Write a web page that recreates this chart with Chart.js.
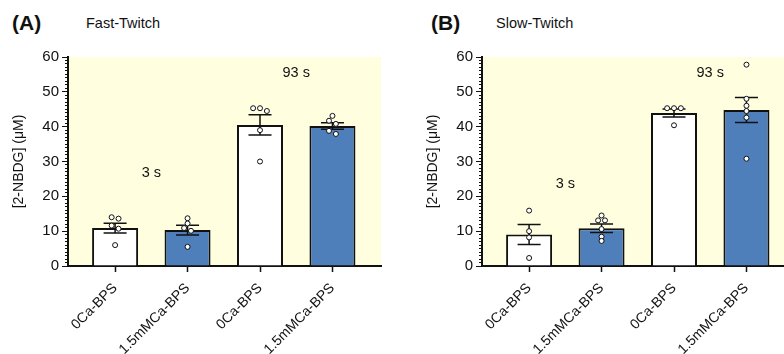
<!DOCTYPE html>
<html>
<head>
<meta charset="utf-8">
<script src="https://cdn.jsdelivr.net/npm/chart.js@4.4.1/dist/chart.umd.min.js"></script>
<style>
    body {
        margin: 0;
        width: 784px;
        height: 354px;
        overflow: hidden;
        position: relative;
        background: #fff;
        font-family: "Liberation Sans", Arial, sans-serif;
        color: #111;
    }
    .panel { position: absolute; top: 0; width: 392px; height: 354px; }
    .tag { position: absolute; top: 11px; font-size: 21px; font-weight: bold; line-height: 24px; }
    .name { position: absolute; top: 15px; font-size: 14.5px; line-height: 17px; }
</style>
</head>
<body>
<div class="tag" style="left:12px">(A)</div>
<div class="name" style="left:86px">Fast-Twitch</div>
<div class="tag" style="left:431px">(B)</div>
<div class="name" style="left:496px">Slow-Twitch</div>

<div class="panel" style="left:0"><canvas id="fastChart" width="392" height="354"></canvas></div>
<div class="panel" style="left:414px"><canvas id="slowChart" width="392" height="354"></canvas></div>

<script>
const categories = ['0Ca-BPS', '1.5mMCa-BPS', '0Ca-BPS', '1.5mMCa-BPS'];
const barColors = ['#ffffff', '#4f7fbb', '#ffffff', '#4f7fbb'];
const yTitle = '[2-NBDG] (μM)';

// Fast-Twitch (A)
const fastMeans = [10.9, 10.3, 40.5, 40.2];
const fastSems = [1.4, 1.4, 2.9, 0.95];
const fastPoints = [
    [14.0, 13.6, 11.6, 10.7, 6.0],
    [13.7, 12.2, 10.9, 10.1, 5.5],
    [45.3, 45.3, 44.5, 39.0, 30.0],
    [43.1, 41.7, 40.8, 38.8, 37.9]
];
const fastNotes = [
    { text: '3 s', x: 0.5, y: 26.7 },
    { text: '93 s', x: 2.5, y: 55.4 }
];

// Slow-Twitch (B)
const slowMeans = [9.05, 10.85, 43.9, 44.8];
const slowSems = [2.85, 1.2, 1.15, 3.6];
const slowPoints = [
    [15.9, 10.0, 8.2, 2.3],
    [14.5, 13.1, 13.1, 10.6, 8.4, 7.2],
    [45.3, 45.3, 45.3, 40.4],
    [57.8, 48.0, 46.0, 44.5, 42.6, 30.8]
];
const slowNotes = [
    { text: '3 s', x: 0.5, y: 23.5 },
    { text: '93 s', x: 2.5, y: 55.5 }
];

const FONT = '"Liberation Sans", Arial, sans-serif';
const INK = '#111';

// spread dots that would overlap sideways, like a small beeswarm
function dodge(values, idx) {
    const sorted = values.slice().sort((a, b) => b - a);
    const out = [];
    let cluster = [sorted[0]];
    const flush = () => {
        const n = cluster.length;
        cluster.forEach((v, j) => out.push({ x: idx + (j - (n - 1) / 2) * 0.095, y: v }));
    };
    for (let k = 1; k < sorted.length; k++) {
        if (cluster[cluster.length - 1] - sorted[k] < 1.0) {
            cluster.push(sorted[k]);
        } else {
            flush();
            cluster = [sorted[k]];
        }
    }
    flush();
    return out;
}

const plotBackground = {
    id: 'plotBackground',
    beforeDraw(chart) {
        const { ctx, chartArea: a } = chart;
        ctx.save();
        ctx.fillStyle = '#ffffe0';
        ctx.fillRect(a.left, a.top, a.right - a.left, a.bottom - a.top);
        ctx.restore();
    }
};

const errorBars = {
    id: 'errorBars',
    afterDatasetDraw(chart, args, opts) {
        if (args.index !== 0) return;
        const { ctx, scales: { x, y } } = chart;
        const meta = chart.getDatasetMeta(0);
        ctx.save();
        ctx.strokeStyle = INK;
        ctx.lineWidth = 1.5;
        opts.means.forEach((m, i) => {
            const cx = x.getPixelForValue(i);
            const half = meta.data[i].width / 4;
            const top = y.getPixelForValue(m + opts.sems[i]);
            const bot = y.getPixelForValue(m - opts.sems[i]);
            ctx.beginPath();
            ctx.moveTo(cx, top); ctx.lineTo(cx, bot);
            ctx.moveTo(cx - half, top); ctx.lineTo(cx + half, top);
            ctx.moveTo(cx - half, bot); ctx.lineTo(cx + half, bot);
            ctx.stroke();
        });
        ctx.restore();
    }
};

const notes = {
    id: 'notes',
    afterDraw(chart, args, opts) {
        const { ctx, scales: { x, y } } = chart;
        ctx.save();
        ctx.fillStyle = INK;
        ctx.font = '14.5px ' + FONT;
        ctx.textAlign = 'center';
        ctx.textBaseline = 'middle';
        opts.items.forEach(n => ctx.fillText(n.text, x.getPixelForValue(n.x), y.getPixelForValue(n.y)));
        ctx.restore();
    }
};

function makeChart(id, means, sems, points, noteItems) {
    const ctx = document.getElementById(id).getContext('2d');
    const dots = points.flatMap((vals, i) => dodge(vals, i));

    return new Chart(ctx, {
        data: {
            datasets: [{
                type: 'bar',
                data: means.map((m, i) => ({ x: i, y: m })),
                backgroundColor: barColors,
                borderColor: INK,
                borderWidth: 2,
                barPercentage: 0.635,
                categoryPercentage: 1,
                order: 2
            }, {
                type: 'scatter',
                data: dots,
                pointRadius: 2.5,
                pointBackgroundColor: '#fff',
                pointBorderColor: INK,
                pointBorderWidth: 1,
                order: 1
            }]
        },
        options: {
            responsive: false,
            animation: false,
            layout: { padding: { top: 57, right: 11, bottom: 0, left: 0 } },
            plugins: {
                legend: { display: false },
                tooltip: { enabled: false },
                errorBars: { means: means, sems: sems },
                notes: { items: noteItems }
            },
            scales: {
                x: {
                    type: 'linear',
                    min: -0.65,
                    max: 3.67,
                    offset: false,
                    border: { color: INK, width: 2 },
                    grid: { drawOnChartArea: false, offset: false, color: INK, tickLength: 6, tickWidth: 1.5 },
                    afterBuildTicks: s => { s.ticks = categories.map((c, i) => ({ value: i })); },
                    ticks: {
                        autoSkip: false,
                        minRotation: 45,
                        maxRotation: 45,
                        padding: 8,
                        color: INK,
                        font: { size: 14, family: FONT },
                        callback: v => categories[v]
                    },
                    afterFit: s => { s.height = 88; }
                },
                y: {
                    min: 0,
                    max: 60,
                    border: { color: INK, width: 2 },
                    grid: {
                        drawOnChartArea: false,
                        color: INK,
                        tickLength: 6,
                        tickWidth: 1,
                        // minor ticks: only the inner half of the tick is drawn
                        tickBorderDash: c => (c.tick && c.tick.value % 10 !== 0) ? [0, 3, 10] : []
                    },
                    ticks: {
                        stepSize: 1,
                        autoSkip: false,
                        padding: 3,
                        color: INK,
                        font: { size: 15, family: FONT },
                        callback: v => (v % 10 === 0 ? v : '')
                    },
                    title: {
                        display: true,
                        text: yTitle,
                        color: INK,
                        font: { size: 14, family: FONT },
                        padding: { top: 11, bottom: 0 }
                    },
                    afterFit: s => { s.width = 68; }
                }
            }
        },
        plugins: [plotBackground, errorBars, notes]
    });
}

makeChart('fastChart', fastMeans, fastSems, fastPoints, fastNotes);
makeChart('slowChart', slowMeans, slowSems, slowPoints, slowNotes);
</script>
</body>
</html>
